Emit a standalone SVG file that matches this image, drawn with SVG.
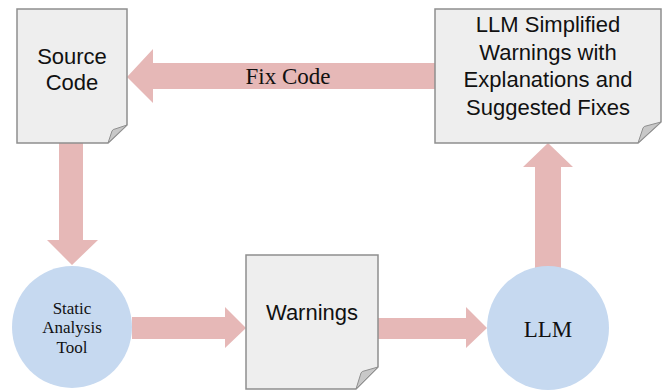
<svg xmlns="http://www.w3.org/2000/svg" width="662" height="392" viewBox="0 0 662 392">
<style>
.doc{fill:#eeeeee;stroke:#8f8f8f;stroke-width:1.5}
.fold{fill:#c8c8c8;stroke:#8f8f8f;stroke-width:1}
.circ{fill:#c6d9f0}
.arrow{fill:#e6b8b7}
.sans{font-family:"Liberation Sans",Arial,sans-serif;font-size:22px;fill:#111;text-anchor:middle}
.serif{font-family:"Liberation Serif","Times New Roman",serif;fill:#111;text-anchor:middle}
</style>
<rect width="662" height="392" fill="#ffffff"/>
<g id="connectors">
  <path class="arrow" d="M435,63 H153 V49 L127,77 L153,103 V89 H435 Z"/>
  <text class="serif" x="288" y="84" font-size="23">Fix Code</text>
  <path class="arrow" d="M59,143 V240 H47 L72,265 L98,240 H83 V143 Z"/>
  <path class="arrow" d="M132,317 H225 V307 L246,328 L225,348 V339 H132 Z"/>
  <path class="arrow" d="M378,318 H466 V307 L487,328 L466,348 V339 H378 Z"/>
  <path class="arrow" d="M535,268 V167 H523 L548,143 L573,167 H561 V268 Z"/>
</g>
<g id="source-code">
  <path class="doc" d="M17,9 H127 V125 L108,143 H17 Z"/>
  <path class="fold" d="M108,143 L112,131 Q113,129 115,129 L127,125 Z"/>
  <text class="sans" x="72" y="64">Source</text>
  <text class="sans" x="72" y="90">Code</text>
</g>
<g id="llm-output">
  <path class="doc" d="M435,9 H661 V122 L638,143 H435 Z"/>
  <path class="fold" d="M638,143 L643,128 Q644,126 646,126 L661,122 Z"/>
  <text class="sans" x="548" y="32">LLM Simplified</text>
  <text class="sans" x="548" y="60">Warnings with</text>
  <text class="sans" x="548" y="87">Explanations and</text>
  <text class="sans" x="548" y="115">Suggested Fixes</text>
</g>
<g id="static-analysis-tool">
  <ellipse class="circ" cx="72" cy="327" rx="60" ry="61"/>
  <text class="serif" x="72" y="314" font-size="17">Static</text>
  <text class="serif" x="72" y="333" font-size="17">Analysis</text>
  <text class="serif" x="72" y="353" font-size="17">Tool</text>
</g>
<g id="warnings">
  <path class="doc" d="M246,255 H378 V367 L356,389 H246 Z"/>
  <path class="fold" d="M356,389 L361,373 Q362,371 364,371 L378,367 Z"/>
  <text class="sans" x="312" y="320">Warnings</text>
</g>
<g id="llm">
  <ellipse class="circ" cx="548" cy="328" rx="61" ry="62"/>
  <text class="serif" x="548" y="337" font-size="23">LLM</text>
</g>
</svg>
